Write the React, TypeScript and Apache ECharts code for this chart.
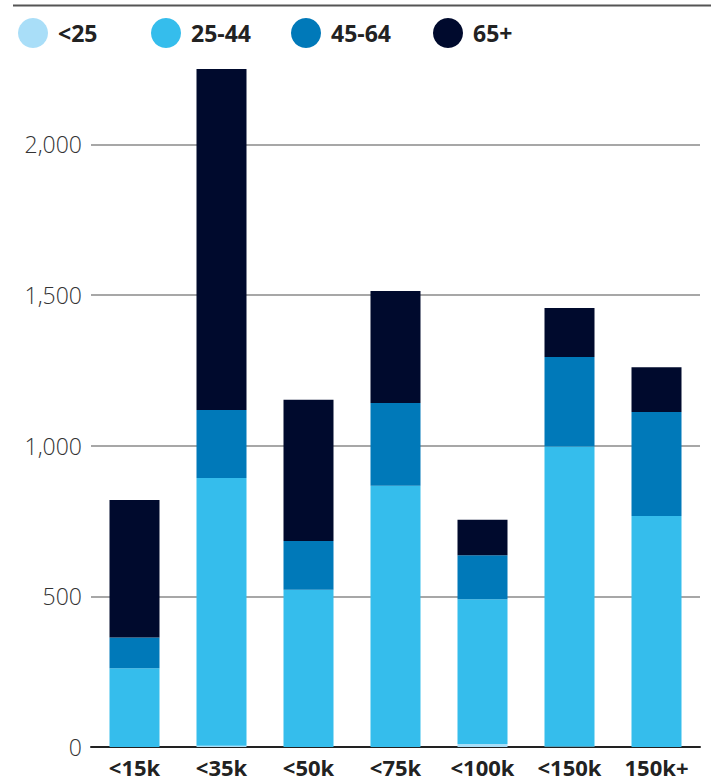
import React, { useEffect, useRef } from "react";
import * as echarts from "echarts";

const categories = ["<15k", "<35k", "<50k", "<75k", "<100k", "<150k", "150k+"];
const seriesNames = ["<25", "25-44", "45-64", "65+"];
const under25 = [0, 4, 0, 0, 10, 2, 0];
const age25to44 = [261, 889, 522, 867, 480, 995, 767];
const age45to64 = [102, 225, 162, 275, 146, 297, 345];
const age65plus = [457, 1132, 468, 371, 118, 163, 148];
const gridValues = [500, 1000, 1500, 2000];
const colors = ["#a9def8", "#35bdec", "#0079b9", "#000a2d"];
const legendLefts = [18, 151, 291, 433];

export default function App() {
  const ref = useRef<HTMLDivElement>(null);
  useEffect(() => {
    if (!ref.current) return;
    const chart = echarts.init(ref.current, undefined, { renderer: "svg" });
    const values = [under25, age25to44, age45to64, age65plus];
    chart.setOption({
      animation: false,
      backgroundColor: "#ffffff",
      textStyle: { fontFamily: "Open Sans" },
      legend: seriesNames.map((n, i) => ({
        data: [n],
        left: legendLefts[i],
        top: 18,
        padding: 0,
        icon: "circle",
        itemWidth: 30,
        itemHeight: 30,
        itemGap: 0,
        selectedMode: false,
        textStyle: { fontSize: 23, fontWeight: 700, color: "#222", fontFamily: "Open Sans", padding: [0, 0, 0, 5] },
      })),
      grid: { left: 91, right: 11, top: 69, bottom: 34, containLabel: false },
      xAxis: {
        type: "category",
        data: categories,
        axisLine: { lineStyle: { color: "#222", width: 2 } },
        axisTick: { show: false },
        axisLabel: { fontSize: 22, fontWeight: 700, color: "#222", margin: 9, fontFamily: "Open Sans" },
      },
      yAxis: {
        type: "value",
        min: 0,
        max: 2250,
        interval: 500,
        axisLine: { show: false },
        axisTick: { show: false },
        splitLine: { show: false },
        axisLabel: {
          fontSize: 23,
          fontWeight: 300,
          color: "#333",
          margin: 9,
          fontFamily: "Open Sans",
          formatter: (v: number) => (v % 500 === 0 ? v.toLocaleString("en-US") : ""),
        },
      },
      series: [
        {
          name: "grid",
          type: "bar",
          stack: "gridlines",
          z: 0,
          barWidth: 0,
          data: categories.map(() => null),
          markLine: {
            silent: true,
            z: 0,
            symbol: "none",
            label: { show: false },
            lineStyle: { color: "#8a8a8a", width: 1.5, type: "solid" },
            data: gridValues.map((v) => ({ yAxis: v })),
          },
        },
        ...seriesNames.map((n, i) => ({
          name: n,
          type: "bar",
          stack: "total",
          barWidth: 50,
          barGap: "-100%",
          z: 3,
          data: values[i],
          itemStyle: { color: colors[i] },
        })),
      ],
      graphic: [
        {
          type: "line",
          shape: { x1: 13, y1: 5.5, x2: 711, y2: 5.5 },
          style: { stroke: "#555", lineWidth: 2 },
        },
      ],
    });
    return () => chart.dispose();
  }, []);
  return (
    <div
      ref={ref}
      style={{ position: "fixed", left: 0, top: 0, width: 711, height: 781 }}
    />
  );
}
